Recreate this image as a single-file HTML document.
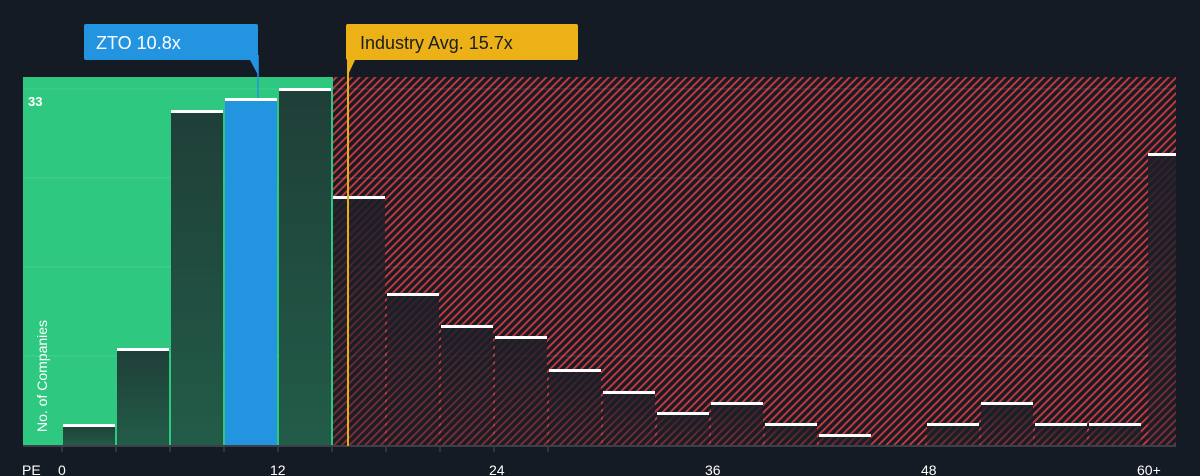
<!DOCTYPE html><html><head><style>body{margin:0;background:#151b24;}svg{display:block;font-family:"Liberation Sans",sans-serif}</style></head><body>
<svg width="1200" height="476" xmlns="http://www.w3.org/2000/svg">
<defs>
<pattern id="h" patternUnits="userSpaceOnUse" width="5.5" height="8" patternTransform="rotate(45)"><rect width="5.5" height="8" fill="#171b23"/><rect width="1.9" height="8" fill="#c8383f"/></pattern>
<linearGradient id="gd" x1="0" y1="0" x2="0" y2="1"><stop offset="0" stop-color="#1f3f38"/><stop offset="1" stop-color="#225c48"/></linearGradient>
<linearGradient id="rd" x1="0" y1="0" x2="0" y2="1"><stop offset="0" stop-color="#1e1f28" stop-opacity="0.9"/><stop offset="1" stop-color="#1e1f28" stop-opacity="0.4"/></linearGradient>
</defs>
<rect width="1200" height="476" fill="#151b24"/>
<rect x="23" y="77" width="310" height="369" fill="#2ec880"/>
<rect x="333" y="77" width="843" height="369" fill="url(#h)"/>
<g stroke="#ffffff" stroke-opacity="0.12"><line x1="23" y1="89" x2="1176" y2="89"/><line x1="23" y1="178" x2="1176" y2="178"/><line x1="23" y1="267" x2="1176" y2="267"/><line x1="23" y1="356" x2="1176" y2="356"/></g>
<g fill="url(#gd)">
<rect x="63" y="425" width="52" height="21"/><rect x="117" y="349" width="52" height="97"/><rect x="171" y="111" width="52" height="335"/><rect x="279" y="89" width="52" height="357"/>
</g>
<rect x="225" y="99" width="52" height="347" fill="#2394e0"/>
<g fill="url(#rd)">
<rect x="333" y="197" width="52" height="249"/><rect x="387" y="294" width="52" height="152"/><rect x="441" y="326" width="52" height="120"/><rect x="495" y="337" width="52" height="109"/><rect x="549" y="370" width="52" height="76"/><rect x="603" y="392" width="52" height="54"/><rect x="657" y="413" width="52" height="33"/><rect x="711" y="403" width="52" height="43"/><rect x="765" y="424" width="52" height="22"/><rect x="819" y="435" width="52" height="11"/><rect x="927" y="424" width="52" height="22"/><rect x="981" y="403" width="52" height="43"/><rect x="1035" y="424" width="52" height="22"/><rect x="1089" y="424" width="52" height="22"/><rect x="1148" y="154" width="28" height="292"/>
</g>
<g fill="#fff">
<rect x="63" y="424" width="52" height="3"/><rect x="117" y="348" width="52" height="3"/><rect x="171" y="110" width="52" height="3"/><rect x="225" y="98" width="52" height="3"/><rect x="279" y="88" width="52" height="3"/>
<rect x="333" y="196" width="52" height="3"/><rect x="387" y="293" width="52" height="3"/><rect x="441" y="325" width="52" height="3"/><rect x="495" y="336" width="52" height="3"/><rect x="549" y="369" width="52" height="3"/><rect x="603" y="391" width="52" height="3"/><rect x="657" y="412" width="52" height="3"/><rect x="711" y="402" width="52" height="3"/><rect x="765" y="423" width="52" height="3"/><rect x="819" y="434" width="52" height="3"/><rect x="927" y="423" width="52" height="3"/><rect x="981" y="402" width="52" height="3"/><rect x="1035" y="423" width="52" height="3"/><rect x="1089" y="423" width="52" height="3"/><rect x="1148" y="153" width="28" height="3"/>
</g>
<line x1="23" y1="446" x2="1176" y2="446" stroke="#3a3f48" stroke-width="2"/>
<g stroke="#3a3f48" stroke-width="1.5"><line x1="62" y1="446" x2="62" y2="452"/><line x1="116" y1="446" x2="116" y2="452"/><line x1="170" y1="446" x2="170" y2="452"/><line x1="224" y1="446" x2="224" y2="452"/><line x1="278" y1="446" x2="278" y2="452"/><line x1="332" y1="446" x2="332" y2="452"/><line x1="386" y1="446" x2="386" y2="452"/><line x1="440" y1="446" x2="440" y2="452"/><line x1="494" y1="446" x2="494" y2="452"/><line x1="548" y1="446" x2="548" y2="452"/></g>
<line x1="348" y1="55" x2="348" y2="446" stroke="#e8ae1a" stroke-width="2"/>
<rect x="346" y="24" width="232" height="36" rx="2" fill="#ebb117"/>
<path d="M348 60 L348 75 L355 60Z" fill="#ebb117"/>
<text x="360" y="49" font-size="18" fill="#1b1d24">Industry Avg. 15.7x</text>
<rect x="84" y="24" width="174" height="36" rx="2" fill="#2394e0"/>
<path d="M250 60 L258 60 L258 75Z" fill="#2394e0"/>
<line x1="258" y1="55" x2="258" y2="98" stroke="#2394e0" stroke-width="1.5"/>
<text x="96" y="49" font-size="18" fill="#fff">ZTO 10.8x</text>
<text x="28" y="106" font-size="13" fill="#fff" font-weight="bold">33</text>
<text transform="translate(47,432) rotate(-90)" font-size="14" fill="#fff">No. of Companies</text>
<g font-size="14" fill="#fff"><text x="22" y="475">PE</text><text x="58" y="475">0</text><text x="270" y="475">12</text><text x="489" y="475">24</text><text x="705" y="475">36</text><text x="921" y="475">48</text><text x="1137" y="475">60+</text></g>
</svg></body></html>
